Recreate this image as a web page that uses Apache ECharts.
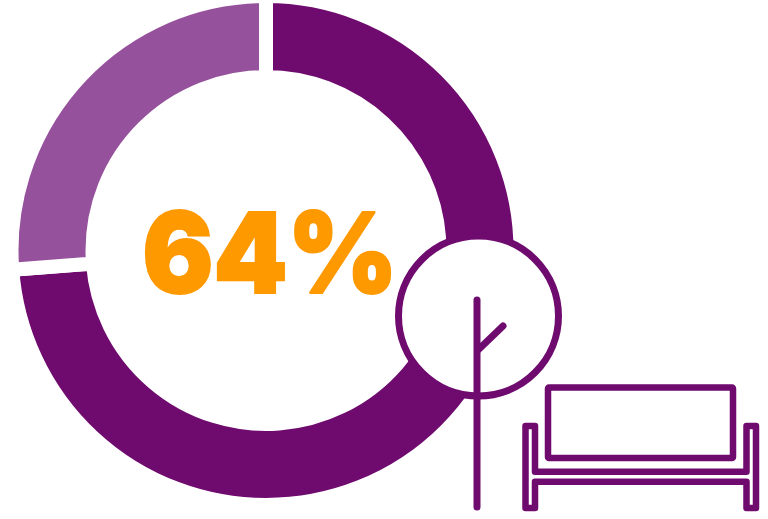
<!DOCTYPE html>
<html><head><meta charset="utf-8">
<style>html,body{margin:0;padding:0;background:#fff}#c{width:768px;height:519px}</style>
<script src="https://cdn.jsdelivr.net/npm/echarts@6/dist/echarts.min.js"></script>
</head><body><div id="c"></div>
<script>
const categories = ['Dark share', 'Light share'];
const values = [73.8, 26.2];
const headline = '64%';
const dark = '#6F0A6E', light = '#96519C', orange = '#FF9900';
const chart = echarts.init(document.getElementById('c'), null, {renderer:'canvas'});
const ic = {stroke: dark, lineWidth: 7, lineCap:'round', lineJoin:'round', fill:'none'};
chart.setOption({
  animation:false,
  backgroundColor:'#fff',
  series:[{
    type:'pie', center:[266,250.5], radius:[173.5,254.5], startAngle:90, clockwise:true,
    silent:true, label:{show:false}, labelLine:{show:false},
    itemStyle:{borderColor:'#fff', borderWidth:14},
    data:categories.map((n,i)=>({name:n,value:values[i],itemStyle:{color:i===0?dark:light}}))
  }],
  graphic:[
    {type:'text', x:270, y:259.5, scaleX:0.942, z:10, style:{text:headline, fill:orange, font:'900 112px Inter', align:'center', verticalAlign:'middle', stroke:orange, lineWidth:2}},
    {type:'circle', z:20, shape:{cx:478.5,cy:316,r:80}, style:{fill:'#fff',stroke:dark,lineWidth:7}},
    {type:'line', z:21, shape:{x1:477,y1:300,x2:477,y2:507}, style:ic},
    {type:'line', z:21, shape:{x1:478,y1:350,x2:503,y2:326}, style:ic},
    {type:'rect', z:21, shape:{x:548,y:387.5,width:185,height:70.5,r:1}, style:{stroke:dark,lineWidth:6.5,lineJoin:'round',fill:'none'}},
    {type:'polygon', z:21, shape:{points:[[525.5,426],[535,426],[535,471.7],[746.5,471.7],[746.5,426],[756,426],[756,508],[746.5,508],[746.5,481.7],[535,481.7],[535,508],[525.5,508]]}, style:{stroke:dark,lineWidth:6.5,lineJoin:'round',fill:'none'}}
  ]
});
</script></body></html>
